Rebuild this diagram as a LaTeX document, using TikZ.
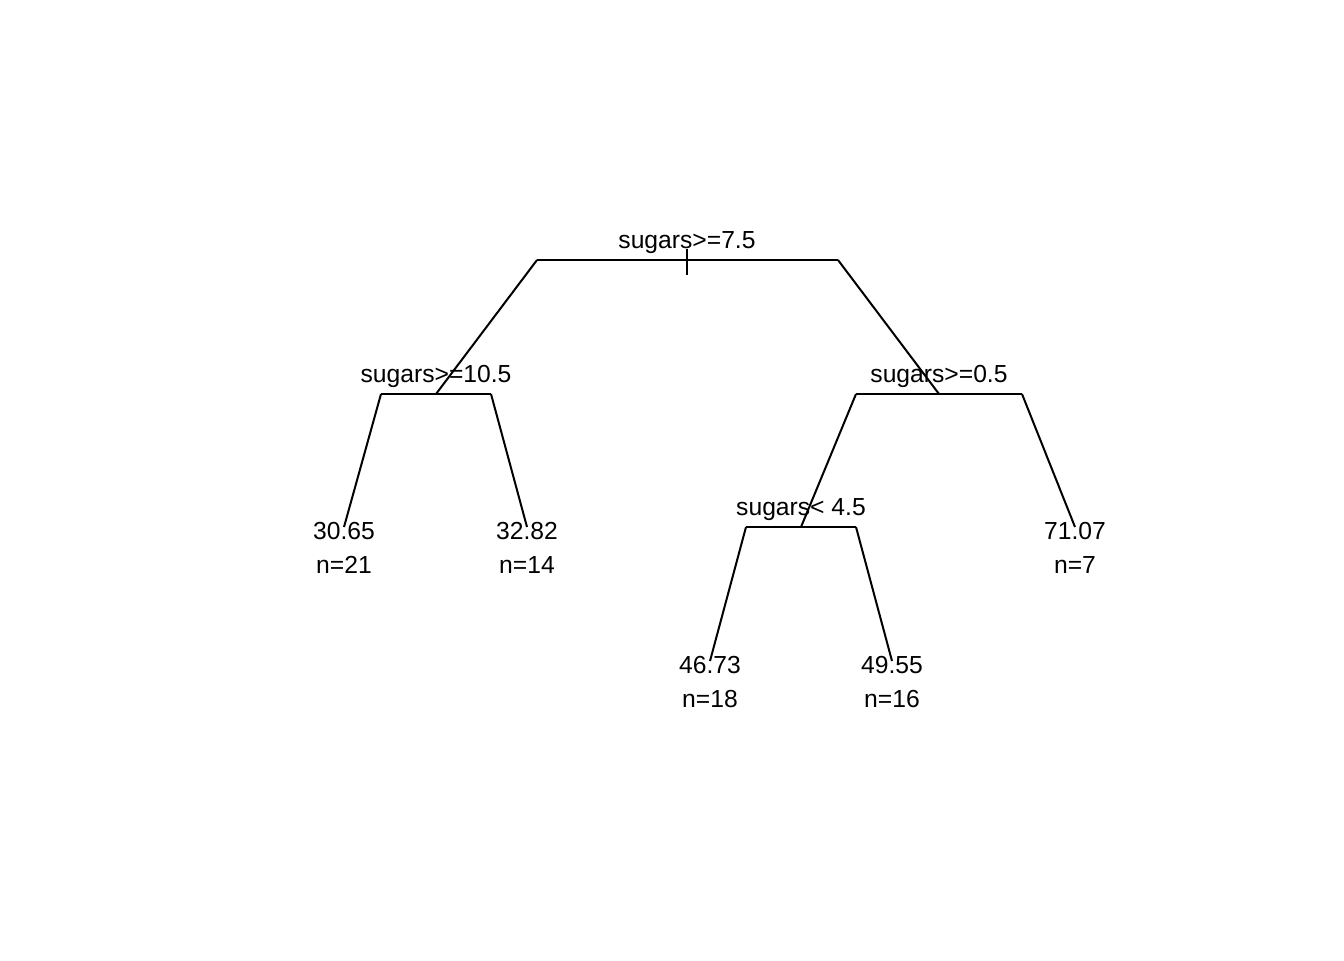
\documentclass[tikz,border=0pt]{standalone}
\usepackage{fontspec}
\setmainfont{Liberation Sans}
\begin{document}
\begin{tikzpicture}[x=0.75pt,y=-0.75pt,
  edge/.style={line width=1.5pt,line cap=butt},
  lab/.style={anchor=base,inner sep=0pt,font=\fontsize{18.5}{22}\selectfont}]
\useasboundingbox (0,0) rectangle (1344,960);
% split points
\coordinate (rL) at (537,260); \coordinate (rR) at (838,260);
\coordinate (aM) at (436,394); \coordinate (aL) at (381,394); \coordinate (aR) at (491,394);
\coordinate (bM) at (939,394); \coordinate (bL) at (856,394); \coordinate (bR) at (1022,394);
\coordinate (cM) at (801,527); \coordinate (cL) at (746,527); \coordinate (cR) at (856,527);
\coordinate (l1) at (344,527); \coordinate (l2) at (527,527);
\coordinate (l3) at (1075,527);
\coordinate (l4) at (710,661); \coordinate (l5) at (892,661);
\coordinate (tT) at (687,249); \coordinate (tB) at (687,275);
% edges
\draw[edge] (rL) -- (rR);
\draw[edge] (tT) -- (tB);
\draw[edge] (rL) -- (aM);
\draw[edge] (rR) -- (bM);
\draw[edge] (aL) -- (aR);
\draw[edge] (bL) -- (bR);
\draw[edge] (aL) -- (l1);
\draw[edge] (aR) -- (l2);
\draw[edge] (bL) -- (cM);
\draw[edge] (bR) -- (l3);
\draw[edge] (cL) -- (cR);
\draw[edge] (cL) -- (l4);
\draw[edge] (cR) -- (l5);
% labels
\node[lab] (s0) at (687,248) {sugars>=7.5};
\node[lab] (s1) at (436,382) {sugars>=10.5};
\node[lab] (s2) at (939,382) {sugars>=0.5};
\node[lab] (s3) at (801,515) {sugars< 4.5};
\node[lab] (v1) at (344,539) {30.65};
\node[lab] (n1) at (344,573) {n=21};
\node[lab] (v2) at (527,539) {32.82};
\node[lab] (n2) at (527,573) {n=14};
\node[lab] (v3) at (1075,539) {71.07};
\node[lab] (n3) at (1075,573) {n=7};
\node[lab] (v4) at (710,673) {46.73};
\node[lab] (n4) at (710,707) {n=18};
\node[lab] (v5) at (892,673) {49.55};
\node[lab] (n5) at (892,707) {n=16};
\end{tikzpicture}
\end{document}
